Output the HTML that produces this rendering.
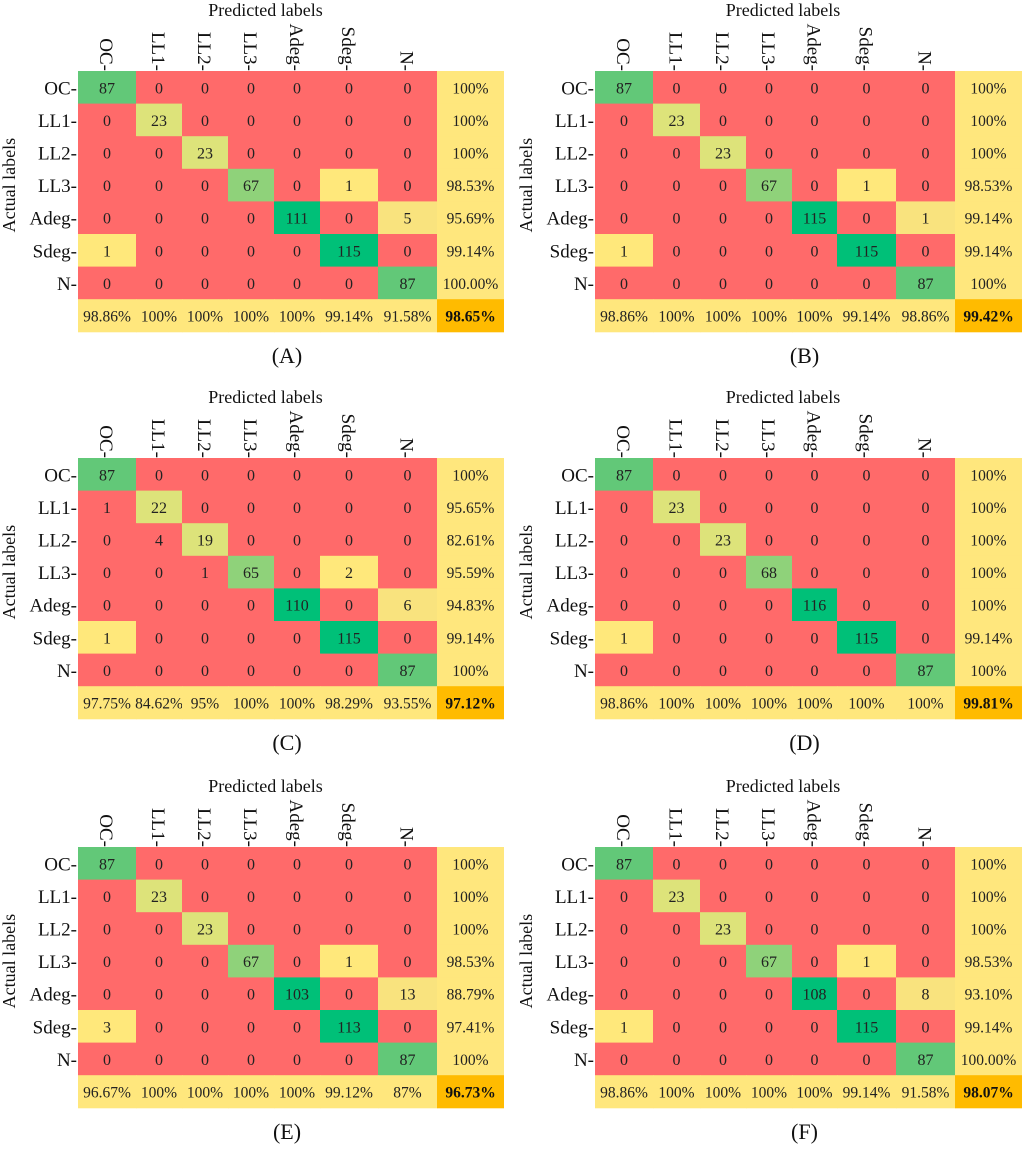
<!DOCTYPE html>
<html><head><meta charset="utf-8"><style>
html,body{margin:0;padding:0;background:#fff;}
svg, svg text{font-family:"Liberation Serif","DejaVu Serif",serif;}
</style></head><body>
<svg id="fig" width="1024" height="1144" viewBox="0 0 1024 1144" font-family="Liberation Serif, serif"></svg>
<script>
const classes = ["OC","LL1","LL2","LL3","Adeg","Sdeg","N"];
const panelLetters = ["A","B","C","D","E","F"];
const matA = [[87,0,0,0,0,0,0],[0,23,0,0,0,0,0],[0,0,23,0,0,0,0],[0,0,0,67,0,1,0],[0,0,0,0,111,0,5],[1,0,0,0,0,115,0],[0,0,0,0,0,0,87]];
const matB = [[87,0,0,0,0,0,0],[0,23,0,0,0,0,0],[0,0,23,0,0,0,0],[0,0,0,67,0,1,0],[0,0,0,0,115,0,1],[1,0,0,0,0,115,0],[0,0,0,0,0,0,87]];
const matC = [[87,0,0,0,0,0,0],[1,22,0,0,0,0,0],[0,4,19,0,0,0,0],[0,0,1,65,0,2,0],[0,0,0,0,110,0,6],[1,0,0,0,0,115,0],[0,0,0,0,0,0,87]];
const matD = [[87,0,0,0,0,0,0],[0,23,0,0,0,0,0],[0,0,23,0,0,0,0],[0,0,0,68,0,0,0],[0,0,0,0,116,0,0],[1,0,0,0,0,115,0],[0,0,0,0,0,0,87]];
const matE = [[87,0,0,0,0,0,0],[0,23,0,0,0,0,0],[0,0,23,0,0,0,0],[0,0,0,67,0,1,0],[0,0,0,0,103,0,13],[3,0,0,0,0,113,0],[0,0,0,0,0,0,87]];
const matF = [[87,0,0,0,0,0,0],[0,23,0,0,0,0,0],[0,0,23,0,0,0,0],[0,0,0,67,0,1,0],[0,0,0,0,108,0,8],[1,0,0,0,0,115,0],[0,0,0,0,0,0,87]];
const rowPctA = ["100%","100%","100%","98.53%","95.69%","99.14%","100.00%"];
const rowPctB = ["100%","100%","100%","98.53%","99.14%","99.14%","100%"];
const rowPctC = ["100%","95.65%","82.61%","95.59%","94.83%","99.14%","100%"];
const rowPctD = ["100%","100%","100%","100%","100%","99.14%","100%"];
const rowPctE = ["100%","100%","100%","98.53%","88.79%","97.41%","100%"];
const rowPctF = ["100%","100%","100%","98.53%","93.10%","99.14%","100.00%"];
const colPctA = ["98.86%","100%","100%","100%","100%","99.14%","91.58%"];
const colPctB = ["98.86%","100%","100%","100%","100%","99.14%","98.86%"];
const colPctC = ["97.75%","84.62%","95%","100%","100%","98.29%","93.55%"];
const colPctD = ["98.86%","100%","100%","100%","100%","100%","100%"];
const colPctE = ["96.67%","100%","100%","100%","100%","99.12%","87%"];
const colPctF = ["98.86%","100%","100%","100%","100%","99.14%","91.58%"];
const overall = ["98.65%","99.42%","97.12%","99.81%","96.73%","98.07%"];

const mats=[matA,matB,matC,matD,matE,matF];
const rows=[rowPctA,rowPctB,rowPctC,rowPctD,rowPctE,rowPctF];
const cols=[colPctA,colPctB,colPctC,colPctD,colPctE,colPctF];
const leftX=[78,136,182,228,274,320,378,437,504];
const rightX=[595,653,700,746,792,837,896,955,1022];
const tops=[71,458,847];
const RH=32.6;
const FF="Liberation Serif, DejaVu Serif, serif";
const diagCol=["#62c878","#dde37a","#dde37a","#8fd27a","#00c078","#00c078","#62c878"];
const yellowSet={"3,5":"#ffe87b","4,6":"#f9e37e","5,0":"#ffe87b"};
const NS="http://www.w3.org/2000/svg";
const svg=document.getElementById('fig');
function mk(tag,attrs,parent,text){const e=document.createElementNS(NS,tag);if(tag==='text')e.setAttribute('font-family',FF);for(const k in attrs)e.setAttribute(k,attrs[k]);if(text!==undefined)e.textContent=text;parent.appendChild(e);return e;}

for(let p=0;p<6;p++){
  const X=p%2===0?leftX:rightX, top=tops[Math.floor(p/2)];
  const g=mk('g',{},svg);
  
  
  const m=mats[p];
  for(let r=0;r<7;r++)for(let c=0;c<7;c++){
    const v=m[r][c];
    let fill="#ff6a6a";
    if(r===c) fill=diagCol[r];
    else if(v>0 && yellowSet[r+","+c]) fill=yellowSet[r+","+c];
    const y=top+r*RH;
    const rect=mk('rect',{x:X[c],y:y,width:X[c+1]-X[c]+0.5,height:RH+0.5,fill:fill},g);
    
    
    const t=mk('text',{x:(X[c]+X[c+1])/2,y:y+RH/2+6,'text-anchor':'middle','font-size':16,fill:'#222'},g,String(v));
    
    
  }
  for(let r=0;r<7;r++){
    const y=top+r*RH;
    const rr=mk('rect',{x:X[7],y:y,width:X[8]-X[7],height:RH+0.5,fill:"#ffe77d"},g);
    
    
    const t=mk('text',{x:(X[7]+X[8])/2,y:y+RH/2+6,'text-anchor':'middle','font-size':15.5,fill:'#222'},g,rows[p][r]);
    
    
    const lbl=mk('text',{x:X[0]-1,y:y+RH/2+7,'text-anchor':'end','font-size':19,fill:'#111'},g,classes[r]+"-");
    
    
  }
  const yb=top+7*RH;
  for(let c=0;c<7;c++){
    const cr=mk('rect',{x:X[c],y:yb,width:X[c+1]-X[c]+0.5,height:RH+0.5,fill:"#ffe77d"},g);
    
    
    const t=mk('text',{x:(X[c]+X[c+1])/2,y:yb+RH/2+6,'text-anchor':'middle','font-size':15.5,fill:'#222'},g,cols[p][c]);
    
    
    const cx=(X[c]+X[c+1])/2;
    const cl=mk('text',{x:0,y:0,'text-anchor':'end','font-size':19,fill:'#111',transform:'translate('+(cx-7)+','+(top)+') rotate(90)'},g,classes[c]+"-");
    
    
  }
  const ov=mk('rect',{x:X[7],y:yb,width:X[8]-X[7],height:RH+0.5,fill:"#ffbb00"},g);
  
  
  const ot=mk('text',{x:(X[7]+X[8])/2,y:yb+RH/2+6,'text-anchor':'middle','font-size':15.5,'font-weight':'bold',fill:'#111'},g,overall[p]);
  
  
  const tt=mk('text',{x:(X[0]+X[7])/2+8,y:top-55,'text-anchor':'middle','font-size':18,fill:'#111'},g,"Predicted labels");
  
  
  const yt=mk('text',{x:0,y:0,'text-anchor':'middle','font-size':18,fill:'#111',transform:'translate('+(X[0]-63)+','+(top+3.5*RH)+') rotate(-90)'},g,"Actual labels");
  
  
  const cap=mk('text',{x:(X[0]+X[8])/2-4,y:top+8*RH+31,'text-anchor':'middle','font-size':22,fill:'#111'},g,"("+panelLetters[p]+")");
  
  
}
</script>
</body></html>
